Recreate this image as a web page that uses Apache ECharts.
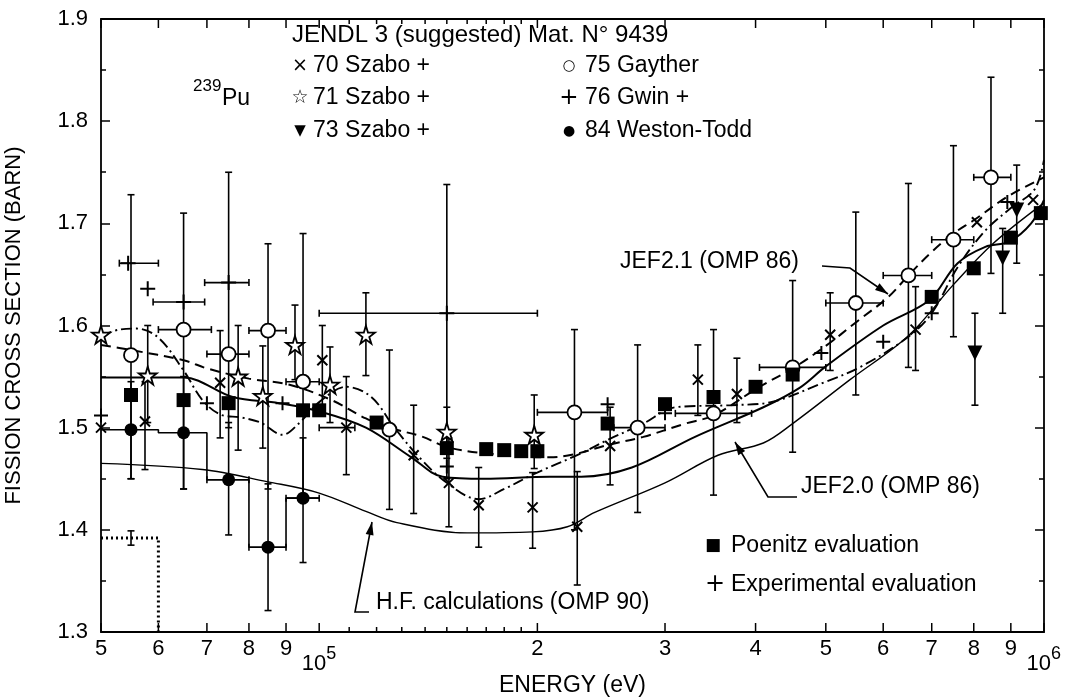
<!DOCTYPE html>
<html>
<head>
<meta charset="utf-8">
<script src="https://cdn.jsdelivr.net/npm/echarts@6/dist/echarts.min.js"></script>
<style>html,body{margin:0;background:#fff}#main{width:1082px;height:700px}</style>
</head>
<body>
<div id="main"></div>
<script>
const FONT = '"Liberation Sans", Arial, sans-serif';

// axis ticks (energy in eV)
const xTicks = [5e4, 6e4, 7e4, 8e4, 9e4, 1e5, 2e5, 3e5, 4e5, 5e5, 6e5, 7e5, 8e5, 9e5, 1e6];
const xTickLabels = ['5', '6', '7', '8', '9', '10^5', '2', '3', '4', '5', '6', '7', '8', '9', '10^6'];
const xMinorTicks = [1.1e5, 1.2e5, 1.3e5, 1.4e5, 1.5e5, 1.6e5, 1.7e5, 1.8e5, 1.9e5];

// measured points: [E, sigma, errLow, errHigh, eLow, eHigh]
const szabo70 = [
  [5.0e4, 1.500], [5.75e4, 1.506, 1.459, 1.545], [7.3e4, 1.544, 1.490, 1.595],
  [1.01e5, 1.566, 1.514, 1.600], [1.09e5, 1.500, 1.454, 1.550, 1.0e5, 1.12e5],
  [1.35e5, 1.473, 1.416, 1.522], [1.51e5, 1.446, 1.403, 1.490], [1.66e5, 1.424, 1.383, 1.461],
  [1.97e5, 1.422, 1.382, 1.456], [2.27e5, 1.403, 1.346, 1.457], [2.52e5, 1.482, 1.444, 1.520],
  [3.33e5, 1.547, 1.512, 1.581], [3.77e5, 1.533, 1.505, 1.568], [5.07e5, 1.591, 1.556, 1.632],
  [6.65e5, 1.596, 1.556, 1.638], [8.08e5, 1.701], [9.66e5, 1.723]
];
const szabo71 = [
  [5.0e4, 1.591], [5.8e4, 1.551, 1.505, 1.600], [7.73e4, 1.550, 1.478, 1.600],
  [8.36e4, 1.531, 1.480, 1.580], [9.26e4, 1.581, 1.547, 1.620], [1.035e5, 1.542, 1.505, 1.579],
  [1.16e5, 1.591, 1.551, 1.632], [1.5e5, 1.496, 1.470, 1.520], [1.98e5, 1.493, 1.460, 1.532]
];
const szabo73 = [
  [8.03e5, 1.573, 1.522, 1.612], [8.77e5, 1.666, 1.612, 1.695], [9.17e5, 1.713, 1.661, 1.757]
];
const gayther75 = [
  [5.5e4, 1.571, 1.450, 1.728], [6.5e4, 1.596, 1.440, 1.710, 6.0e4, 7.1e4],
  [7.5e4, 1.572, 1.500, 1.750, 7.0e4, 8.0e4], [8.5e4, 1.595, 1.440, 1.680, 8.0e4, 9.0e4],
  [9.5e4, 1.545, 1.430, 1.690, 9.0e4, 1.0e5], [1.25e5, 1.498, 1.420, 1.576],
  [2.25e5, 1.515, 1.400, 1.596, 2.0e5, 2.5e5], [2.75e5, 1.500, 1.417, 1.581, 2.55e5, 3.0e5],
  [3.5e5, 1.514, 1.434, 1.596, 3.1e5, 3.95e5], [4.5e5, 1.559, 1.476, 1.644, 4.05e5, 5.0e5],
  [5.5e5, 1.622, 1.532, 1.711, 5.0e5, 6.0e5], [6.5e5, 1.649, 1.559, 1.739, 6.0e5, 7.0e5],
  [7.5e5, 1.684, 1.589, 1.776, 7.0e5, 8.0e5], [8.45e5, 1.745, 1.651, 1.843, 8.0e5, 9.0e5]
];
const gwin76 = [
  [5.45e4, 1.661, null, null, 5.3e4, 6.0e4], [5.8e4, 1.636],
  [6.5e4, 1.623, null, null, 5.9e4, 6.95e4], [7.5e4, 1.642, null, null, 6.95e4, 8.0e4],
  [1.5e5, 1.612, 1.450, 1.738, 1.0e5, 2.0e5]
];
const westonTodd84 = [
  [5.5e4, 1.498, 1.450, 1.545], [6.5e4, 1.495, 1.440, 1.550],
  [7.5e4, 1.449, 1.395, 1.505, 7.0e4, 8.0e4], [8.5e4, 1.383, 1.321, 1.445, 8.0e4, 9.0e4],
  [9.5e4, 1.431, 1.368, 1.490, 9.0e4, 1.0e5]
];
const wtEdges = [5e4, 6e4, 7e4, 8e4, 9e4, 1e5];
const wtLevels = [1.498, 1.495, 1.449, 1.383, 1.431];
const lowEdges = [5e4, 6e4];
const lowLevel = 1.392;
const lowPoint = [[5.5e4, 1.392, 1.385, 1.399]];

const poenitz = [
  [5.5e4, 1.532], [6.5e4, 1.527], [7.5e4, 1.524], [9.5e4, 1.517], [1e5, 1.517], [1.2e5, 1.505],
  [1.5e5, 1.480], [1.7e5, 1.479], [1.8e5, 1.478], [1.9e5, 1.477], [2e5, 1.477], [2.5e5, 1.504],
  [3e5, 1.523], [3.5e5, 1.530], [4e5, 1.540], [4.5e5, 1.552], [7e5, 1.628], [8e5, 1.656],
  [9e5, 1.686], [9.9e5, 1.710]
];
const expEval = [
  [5.0e4, 1.512], [7.0e4, 1.524], [8.9e4, 1.524], [1.5e5, 1.462], [2.5e5, 1.523],
  [3.0e5, 1.514], [4.93e5, 1.573], [6.0e5, 1.584], [7.0e5, 1.612], [8.9e5, 1.721]
];

// evaluated curves
const jendlE = [5e4, 5.3e4, 5.6e4, 6e4, 6.5e4, 6.9e4, 7.3e4, 7.8e4, 8.3e4, 8.9e4, 9.4e4, 1e5, 1.09e5, 1.18e5, 1.27e5, 1.37e5, 1.5e5, 1.66e5, 1.8e5, 1.97e5, 2.3e5, 2.5e5, 2.8e5, 3.1e5, 3.7e5, 4.2e5, 5e5, 5.6e5, 6.5e5, 7e5, 7.6e5, 8.3e5, 9e5, 9.7e5, 1e6];
const jendlV = [1.590, 1.596, 1.597, 1.588, 1.556, 1.527, 1.513, 1.510, 1.505, 1.493, 1.505, 1.525, 1.540, 1.530, 1.500, 1.472, 1.446, 1.430, 1.440, 1.454, 1.475, 1.488, 1.504, 1.520, 1.522, 1.525, 1.545, 1.560, 1.589, 1.612, 1.657, 1.693, 1.715, 1.733, 1.762];
const jef21E = [5e4, 5.5e4, 6.5e4, 7e4, 8e4, 9.1e4, 1.04e5, 1.16e5, 1.25e5, 1.39e5, 1.5e5, 1.69e5, 2.08e5, 2.25e5, 2.5e5, 2.8e5, 3.2e5, 3.5e5, 4.05e5, 4.5e5, 5e5, 5.5e5, 6.1e5, 6.5e5, 7e5, 7.5e5, 8e5, 8.9e5, 1e6];
const jef21V = [1.581, 1.576, 1.566, 1.558, 1.548, 1.542, 1.527, 1.509, 1.500, 1.491, 1.481, 1.475, 1.471, 1.474, 1.483, 1.491, 1.504, 1.512, 1.540, 1.558, 1.580, 1.603, 1.628, 1.649, 1.672, 1.690, 1.703, 1.726, 1.745];
const jef20E = [5e4, 6.5e4, 7.6e4, 8.8e4, 1e5, 1.16e5, 1.34e5, 1.48e5, 1.69e5, 2.08e5, 2.3e5, 2.7e5, 3.3e5, 4.1e5, 4.6e5, 5e5, 6e5, 6.95e5, 7.6e5, 8.3e5, 8.95e5, 9.6e5, 1e6];
const jef20V = [1.549, 1.549, 1.530, 1.524, 1.516, 1.500, 1.471, 1.452, 1.450, 1.452, 1.452, 1.461, 1.491, 1.520, 1.539, 1.560, 1.600, 1.625, 1.661, 1.677, 1.682, 1.700, 1.723];
const hfE = [5e4, 6.9e4, 8.5e4, 1e5, 1.16e5, 1.28e5, 1.6e5, 1.97e5, 2.2e5, 2.4e5, 3e5, 3.55e5, 4.1e5, 4.5e5, 5.4e5, 6.5e5, 7.5e5, 8.5e5, 1e6];
const hfV = [1.465, 1.459, 1.447, 1.436, 1.418, 1.407, 1.397, 1.398, 1.403, 1.417, 1.446, 1.473, 1.485, 1.504, 1.547, 1.590, 1.640, 1.680, 1.720];

const zip = (xs, ys) => xs.map((x, i) => [x, ys[i]]);
const pad = rows => rows.map(r => [r[0], r[1], r[2] ?? null, r[3] ?? null, r[4] ?? null, r[5] ?? null]);
const stepPts = (edges, levels) => {
  const out = [];
  levels.forEach((v, i) => { out.push([edges[i], v], [edges[i + 1], v]); });
  return out;
};

const num = v => (typeof v === 'number' && Number.isFinite(v));
function renderErr(params, api) {
  const E = api.value(0), v = api.value(1);
  const lo = api.value(2), hi = api.value(3), xl = api.value(4), xh = api.value(5);
  const st = { stroke: '#000', lineWidth: 1.6 };
  const kids = [];
  const seg = (x1, y1, x2, y2) => kids.push({ type: 'line', shape: { x1, y1, x2, y2 }, style: st });
  if (num(lo) && num(hi)) {
    const a = api.coord([E, lo]), b = api.coord([E, hi]);
    seg(a[0], a[1], b[0], b[1]);
    seg(a[0] - 3.5, a[1], a[0] + 3.5, a[1]);
    seg(b[0] - 3.5, b[1], b[0] + 3.5, b[1]);
  }
  if (num(xl) && num(xh)) {
    const a = api.coord([xl, v]), b = api.coord([xh, v]);
    seg(a[0], a[1], b[0], b[1]);
    seg(a[0], a[1] - 3.5, a[0], a[1] + 3.5);
    seg(b[0], b[1] - 3.5, b[0], b[1] + 3.5);
  }
  return { type: 'group', children: kids };
}
const errSeries = rows => ({
  type: 'custom', renderItem: renderErr, data: pad(rows), z: 3,
  encode: { x: 0, y: 1 }, silent: true
});

function renderTick(params, api) {
  const E = api.value(0), major = api.value(2) === 1;
  const b = api.coord([E, 1.3]), t = api.coord([E, 1.9]);
  const len = major ? 9 : 5;
  const st = { stroke: '#000', lineWidth: 1.5 };
  const kids = [
    { type: 'line', shape: { x1: b[0], y1: b[1], x2: b[0], y2: b[1] - len }, style: st },
    { type: 'line', shape: { x1: t[0], y1: t[1], x2: t[0], y2: t[1] + len }, style: st }
  ];
  if (major) {
    const lab = xTickLabels[params.dataIndex];
    if (lab.indexOf('^') > 0) {
      const [base, ex] = lab.split('^');
      kids.push({ type: 'text', x: b[0] + 7, y: b[1] + 21, style: { text: base, font: '22px ' + FONT, fill: '#000', align: 'right', verticalAlign: 'top' } });
      kids.push({ type: 'text', x: b[0] + 7, y: b[1] + 13, style: { text: ex, font: '18px ' + FONT, fill: '#000', align: 'left', verticalAlign: 'top' } });
    } else {
      kids.push({ type: 'text', x: b[0], y: b[1] + 6, style: { text: lab, font: '22px ' + FONT, fill: '#000', align: 'center', verticalAlign: 'top' } });
    }
  }
  return { type: 'group', children: kids };
}
const tickData = xTicks.map(e => [e, 1.3, 1]).concat(xMinorTicks.map(e => [e, 1.3, 0]));

function arrow(pts) {
  const n = pts.length;
  const [x1, y1] = pts[n - 2], [x2, y2] = pts[n - 1];
  const a = Math.atan2(y2 - y1, x2 - x1), L = 13, W = 4;
  const bx = x2 - L * Math.cos(a), by = y2 - L * Math.sin(a);
  return [
    { type: 'polyline', shape: { points: pts }, style: { stroke: '#000', lineWidth: 1.6, fill: 'none' } },
    { type: 'polygon', shape: { points: [[x2, y2], [bx - W * Math.sin(a), by + W * Math.cos(a)], [bx + W * Math.sin(a), by - W * Math.cos(a)]] }, style: { fill: '#000' } }
  ];
}
const txt = (x, y, text, size, family, align) => ({
  type: 'text', x, y,
  style: { text, font: size + 'px ' + (family || FONT), fill: '#000', verticalAlign: 'middle', align: align || 'left' }
});
const sym = (x, y, ch, size) => txt(x, y, ch, size, '"DejaVu Sans"', 'center');

const starPath = 'path://M50,0 L61,35 L98,35 L68,57 L79,91 L50,70 L21,91 L32,57 L2,35 L39,35 Z';
const crossPath = 'path://M0,0 L10,10 M10,0 L0,10';
const plusPath = 'path://M5,0 L5,10 M0,5 L10,5';
const open = { color: '#fff', borderColor: '#000', borderWidth: 1.8, opacity: 1 };
const stroke = { color: 'none', borderColor: '#000', borderWidth: 2, opacity: 1 };
const solid = { color: '#000', opacity: 1 };

const line = (data, type, width) => ({
  type: 'line', data, showSymbol: false, smooth: 0.35, z: 2, silent: true,
  lineStyle: { color: '#000', width, type, opacity: 1 }
});
const scat = (rows, symbol, size, itemStyle, extra) => Object.assign({
  type: 'scatter', data: rows.map(r => [r[0], r[1]]), symbol, symbolSize: size, z: 4,
  itemStyle, silent: true
}, extra || {});

const chart = echarts.init(document.getElementById('main'));
chart.setOption({
  animation: false,
  backgroundColor: '#fff',
  grid: { left: 101, right: 38, top: 19, bottom: 68, show: true, borderColor: '#000', borderWidth: 1.8, outerBoundsMode: 'none' },
  xAxis: {
    type: 'log', logBase: 10, min: 5e4, max: 1e6,
    axisLine: { show: false }, axisTick: { show: false }, axisLabel: { show: false }, splitLine: { show: false },
    name: 'ENERGY (eV)', nameLocation: 'middle', nameGap: 42,
    nameTextStyle: { fontFamily: FONT, fontSize: 23, color: '#000' }
  },
  yAxis: [{
    type: 'value', min: 1.3, max: 1.9, interval: 0.1,
    axisLine: { show: false }, splitLine: { show: false },
    axisTick: { show: true, inside: true, length: 9, lineStyle: { color: '#000', width: 1.5 } },
    minorTick: { show: true, splitNumber: 2, length: 5, lineStyle: { color: '#000', width: 1.5 } },
    axisLabel: { fontFamily: FONT, fontSize: 22, color: '#000', margin: 13, formatter: v => v.toFixed(1) },
    name: 'FISSION CROSS SECTION (BARN)', nameLocation: 'middle', nameGap: 76,
    nameTextStyle: { fontFamily: FONT, fontSize: 22, color: '#000' }
  }, {
    type: 'value', min: 1.3, max: 1.9, interval: 0.1, position: 'right',
    axisLine: { show: false }, splitLine: { show: false }, axisLabel: { show: false },
    axisTick: { show: true, inside: true, length: 9, lineStyle: { color: '#000', width: 1.5 } },
    minorTick: { show: true, splitNumber: 2, length: 5, lineStyle: { color: '#000', width: 1.5 } }
  }],
  series: [
    { type: 'custom', renderItem: renderTick, data: tickData, encode: { x: 0, y: 1 }, silent: true, z: 1 },
    line(zip(jendlE, jendlV), [11, 4, 2, 4], 1.9),
    line(zip(jef21E, jef21V), [10, 6], 2),
    line(zip(jef20E, jef20V), 'solid', 2),
    line(zip(hfE, hfV), 'solid', 1.4),
    { type: 'line', data: stepPts(wtEdges, wtLevels), showSymbol: false, z: 2, silent: true, lineStyle: { color: '#000', width: 1.6 } },
    { type: 'line', data: stepPts(lowEdges, [lowLevel]).concat([[lowEdges[1], 1.3]]), showSymbol: false, z: 2, silent: true, lineStyle: { color: '#000', width: 3, type: [2, 3] } },
    errSeries(szabo70), errSeries(szabo71), errSeries(szabo73), errSeries(gayther75),
    errSeries(gwin76), errSeries(westonTodd84), errSeries(lowPoint),
    scat(szabo70, crossPath, 10, stroke),
    scat(szabo71, starPath, 18, open),
    scat(szabo73, 'triangle', 15, solid, { symbolRotate: 180 }),
    scat(gayther75, 'circle', 14, open),
    scat(gwin76, plusPath, 15, stroke),
    scat(expEval, plusPath, 14, stroke),
    scat(westonTodd84, 'circle', 13, solid),
    scat(poenitz, 'rect', 14, solid)
  ],
  graphic: [
    txt(292, 35, 'JENDL 3 (suggested) Mat. N° 9439', 24),
    sym(300, 66, '×', 19), txt(313, 66, '70 Szabo +', 23),
    sym(300, 98, '☆', 19), txt(313, 98, '71 Szabo +', 23),
    sym(300, 131, '▼', 15), txt(313, 131, '73 Szabo +', 23),
    sym(569, 66, '○', 15), txt(585, 66, '75 Gayther', 23),
    sym(569, 98, '+', 23), txt(585, 98, '76 Gwin +', 23),
    sym(569, 131, '●', 14), txt(585, 131, '84 Weston-Todd', 23),
    txt(193, 86, '239', 17),
    txt(222, 99, 'Pu', 23),
    txt(620, 262, 'JEF2.1 (OMP 86)', 23),
    txt(801, 487, 'JEF2.0 (OMP 86)', 23),
    txt(376, 603, 'H.F. calculations (OMP 90)', 23),
    sym(713, 546, '■', 17), txt(731, 546, 'Poenitz evaluation', 23),
    sym(715, 585, '+', 24), txt(731, 585, 'Experimental evaluation', 23)
  ].concat(
    arrow([[822, 266], [850, 268], [888, 294]]),
    arrow([[797, 497], [768, 497], [735, 442]]),
    arrow([[369, 612], [355, 612], [372, 522]])
  )
});
</script>
</body>
</html>
